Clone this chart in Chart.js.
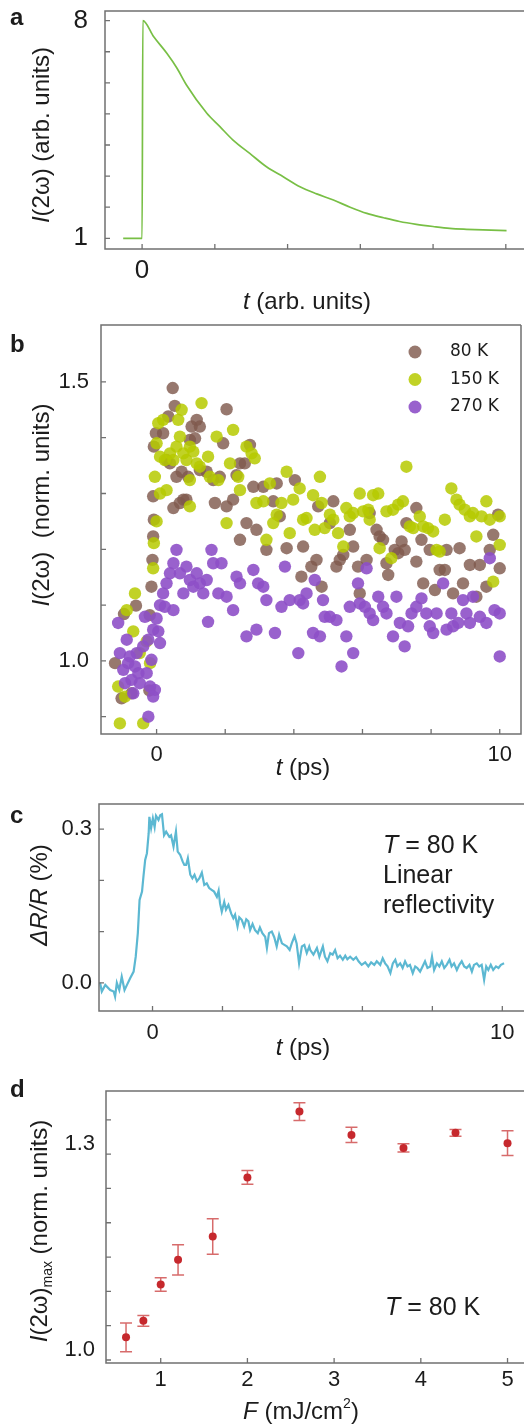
<!DOCTYPE html>
<html>
<head>
<meta charset="utf-8">
<script src="https://cdn.jsdelivr.net/npm/chart.js@4.4.1/dist/chart.umd.min.js"></script>
<style>
  html, body { margin: 0; padding: 0; background: #fff; }
  #wrap { position: relative; width: 524px; height: 1424px; }
  canvas { position: absolute; left: 0; top: 0; }
</style>
</head>
<body>
<div id="wrap">
  <canvas id="chartA" width="524" height="1424"></canvas>
  <canvas id="chartB" width="524" height="1424"></canvas>
  <canvas id="chartC" width="524" height="1424"></canvas>
  <canvas id="chartD" width="524" height="1424"></canvas>
</div>
<script>
// ---- panel a: model SHG transient (arb. units)
const modelT = [-0.26, 0, 0.01, 0.16, 0.34, 0.48, 0.61, 0.89, 1.07, 1.25, 1.48, 1.71, 1.94, 2.17, 2.40, 2.63, 2.86, 3.09, 3.32, 3.54, 3.77, 4.00, 4.23, 4.46, 4.69, 5.01];
const modelI = [1, 1, 8, 7.48, 6.95, 6.47, 5.93, 5.02, 4.59, 4.16, 3.73, 3.30, 2.98, 2.66, 2.43, 2.23, 2.00, 1.80, 1.66, 1.54, 1.45, 1.38, 1.32, 1.29, 1.27, 1.25];
const aXTicks = [0, 1, 2, 3, 4, 5];
const aXLabels = ['0', '', '', '', '', ''];
const aYTicks = [1, 2, 3, 4, 5, 6, 7, 8];
const aYLabels = ['1', '', '', '', '', '', '', '8'];

// ---- panel b: measured SHG vs delay, [t (ps), I (norm.)]
const shg80K = [[-1.21,0.996],[-1.02,0.933],[-0.95,1.084],[-0.60,1.099],[-0.73,0.942],[-0.21,0.947],[-0.20,1.082],[-0.15,1.133],[-0.12,1.181],[-0.10,1.223],[-0.08,1.253],[-0.10,1.295],[-0.08,1.384],[-0.02,1.408],
  [0.47,1.489],[0.53,1.457],[0.19,1.408],[0.34,1.438],[0.29,1.360],[0.39,1.354],[0.58,1.330],[0.78,1.289],[0.49,1.274],[0.68,1.283],[0.87,1.289],[1.02,1.420],[1.17,1.432],[1.26,1.420],[1.12,1.399],[0.97,1.396],[0.92,1.330],[1.26,1.342],[1.46,1.339],[1.65,1.324],[0.73,1.339],
  [2.04,1.451],[1.94,1.390],[1.84,1.330],[1.70,1.283],[2.04,1.277],[2.23,1.289],[2.43,1.354],[2.57,1.354],[2.33,1.333],[2.72,1.387],[2.82,1.312],[2.62,1.247],[2.91,1.235],[2.43,1.217],
  [3.20,1.199],[3.11,1.312],[3.40,1.286],[3.50,1.318],[3.59,1.259],[3.79,1.202],[4.03,1.324],[4.27,1.205],[4.22,1.151],[4.51,1.169],[4.66,1.181],[4.81,1.133],[4.71,1.277],
  [5.15,1.286],[5.05,1.247],[5.24,1.169],[5.34,1.181],[5.44,1.190],[5.63,1.235],[5.73,1.205],[5.92,1.121],[5.87,1.169],[6.12,1.181],[6.21,1.265],[6.41,1.235],[6.50,1.223],[6.60,1.217],[6.75,1.154],[6.70,1.175],[6.94,1.199],[7.04,1.193],[7.14,1.214],[7.23,1.199],[7.28,1.247],[7.57,1.274],[7.57,1.178],[7.72,1.217],[7.77,1.139],[7.96,1.199],
  [8.11,1.127],[8.25,1.163],[8.40,1.163],[8.45,1.199],[8.64,1.121],[8.83,1.202],[8.93,1.139],[9.13,1.172],[9.32,1.115],[9.42,1.172],[9.61,1.133],[9.71,1.199],[9.81,1.226],[9.95,1.262],[10.00,1.166]];
const shg150K = [[-1.07,0.888],[-1.12,0.954],[-0.92,0.936],[-0.87,1.091],[-0.63,1.121],[-0.68,1.053],[-0.49,1.014],[-0.39,0.888],[-0.19,0.996],[-0.29,1.035],
  [-0.10,1.166],[-0.08,1.211],[0.00,1.250],[-0.05,1.330],[0.00,1.390],[0.05,1.426],[0.10,1.366],[0.19,1.432],[0.24,1.360],[0.29,1.306],[0.10,1.300],
  [0.39,1.372],[0.49,1.360],[0.58,1.384],[0.68,1.402],[0.73,1.450],[0.63,1.432],[0.78,1.372],[0.87,1.360],[0.97,1.384],[1.07,1.375],[1.17,1.354],[0.97,1.324],[0.97,1.277],
  [1.31,1.462],[1.26,1.348],[1.50,1.366],[1.55,1.330],[1.75,1.402],[1.80,1.324],[2.04,1.247],[2.14,1.354],[2.23,1.414],[2.38,1.330],[2.43,1.306],[2.62,1.384],[2.77,1.372],[2.86,1.363],[2.91,1.283],
  [3.11,1.286],[3.20,1.217],[3.30,1.318],[3.40,1.247],[3.50,1.262],[3.64,1.283],[3.79,1.339],[3.88,1.229],[3.98,1.289],[4.17,1.309],[4.27,1.253],[4.37,1.256],[4.56,1.297],[4.61,1.235],[4.76,1.330],[4.81,1.283],[4.90,1.238],
  [5.05,1.262],[5.15,1.253],[5.29,1.229],[5.44,1.205],[5.53,1.274],[5.63,1.259],[5.73,1.265],[5.92,1.300],[6.02,1.268],[6.17,1.271],[6.21,1.253],[6.31,1.297],[6.46,1.300],[6.50,1.202],[6.70,1.268],[6.84,1.184],[6.89,1.271],
  [7.04,1.280],[7.18,1.286],[7.28,1.348],[7.38,1.241],[7.48,1.238],[7.67,1.259],[7.77,1.241],[7.91,1.238],[8.06,1.232],[8.16,1.199],[8.25,1.196],[8.40,1.253],[8.59,1.309],[8.74,1.289],[8.83,1.280],[8.98,1.271],
  [9.13,1.259],[9.22,1.265],[9.32,1.223],[9.47,1.259],[9.61,1.286],[9.71,1.253],[9.81,1.142],[10.00,1.208],[10.00,1.259]];
const shg270K = [[-1.12,1.068],[-1.07,1.014],[-0.97,0.984],[-0.87,1.038],[-0.78,1.008],[-0.73,0.966],[-0.63,0.990],[-0.58,1.014],[-0.49,0.960],[-0.39,1.026],[-0.29,0.978],[-0.19,0.954],[-0.15,1.002],[-0.05,0.948],[-0.24,0.900],[-0.10,0.936],[-0.68,0.942],[-0.92,0.960],[-0.83,0.996],[-0.53,0.978],[-0.34,1.079],[-0.24,1.038],[-0.10,1.056],[0.05,1.053],[0.10,1.032],[0.00,1.076],
  [0.10,1.100],[0.19,1.121],[0.29,1.139],[0.24,1.097],[0.39,1.157],[0.49,1.175],[0.58,1.199],[0.49,1.091],[0.68,1.157],[0.78,1.121],[0.87,1.169],[0.97,1.145],[1.07,1.133],[1.17,1.157],[1.26,1.139],[1.36,1.121],[1.46,1.145],[1.50,1.070],[1.60,1.199],[1.65,1.175],[1.89,1.175],[1.80,1.121],
  [2.04,1.115],[2.23,1.091],[2.33,1.151],[2.43,1.139],[2.62,1.044],[2.82,1.163],[2.91,1.056],[2.96,1.139],[3.11,1.133],[3.20,1.109],[3.45,1.050],[3.64,1.097],[3.74,1.169],[3.88,1.109],
  [4.13,1.014],[4.17,1.109],[4.27,1.103],[4.37,1.121],[4.61,1.145],[4.56,1.050],[4.76,1.044],[4.85,1.109],[4.90,1.079],[5.05,1.079],[5.24,1.073],[5.39,0.990],[5.53,1.044],[5.63,1.097],[5.73,1.014],[5.87,1.139],[5.92,1.103],
  [6.07,1.097],[6.12,1.166],[6.21,1.085],[6.31,1.073],[6.46,1.115],[6.60,1.097],[6.70,1.085],[6.89,1.044],[6.99,1.115],[7.09,1.068],[7.23,1.026],[7.33,1.062],[7.43,1.085],[7.57,1.097],[7.72,1.112],[7.86,1.085],[7.96,1.062],
  [8.06,1.050],[8.16,1.085],[8.35,1.139],[8.45,1.056],[8.59,1.085],[8.64,1.062],[8.79,1.068],[8.93,1.109],[9.03,1.085],[9.13,1.068],[9.22,1.115],[9.42,1.079],[9.61,1.068],[9.71,1.184],[9.85,1.091],[10.00,1.008],[10.00,1.085]];
const bXTicks = [0, 2, 4, 6, 8, 10];
const bXLabels = ['0', '', '', '', '', '10'];
const bYTicks = [0.9, 1.0, 1.1, 1.2, 1.3, 1.4, 1.5];
const bYLabels = ['', '1.0', '', '', '', '', '1.5'];
const seriesNames = ['80 K', '150 K', '270 K'];

// ---- panel c: linear reflectivity, [t (ps), dR/R (%)]
const reflTrace = [[-1.50,0.000],[-1.45,-0.017],[-1.35,-0.004],[-1.21,-0.014],[-1.11,-0.017],[-1.07,-0.027],[-1.02,0.000],[-0.95,-0.014],[-0.88,0.012],[-0.80,-0.014],[-0.73,-0.004],[-0.64,0.009],[-0.54,0.022],[-0.48,0.051],[-0.42,0.097],[-0.37,0.162],[-0.30,0.178],[-0.26,0.207],[-0.21,0.240],[-0.16,0.253],[-0.11,0.292],[-0.09,0.324],[-0.04,0.302],[0.01,0.321],[0.06,0.304],[0.10,0.326],[0.17,0.318],[0.22,0.327],[0.27,0.329],
  [0.33,0.288],[0.39,0.295],[0.48,0.285],[0.53,0.288],[0.60,0.266],[0.67,0.295],[0.72,0.256],[0.79,0.250],[0.86,0.237],[0.91,0.230],[0.96,0.230],[1.01,0.243],[1.08,0.211],[1.14,0.204],[1.20,0.211],[1.27,0.198],[1.34,0.204],[1.41,0.215],[1.48,0.191],[1.55,0.194],[1.62,0.185],[1.70,0.181],[1.76,0.178],[1.84,0.168],[1.89,0.180],[1.93,0.155],[1.98,0.139],
  [2.05,0.158],[2.10,0.143],[2.17,0.152],[2.25,0.135],[2.31,0.126],[2.36,0.133],[2.43,0.110],[2.48,0.128],[2.55,0.123],[2.62,0.110],[2.68,0.124],[2.74,0.120],[2.79,0.103],[2.86,0.115],[2.93,0.103],[3.01,0.097],[3.07,0.108],[3.14,0.097],[3.22,0.090],[3.27,0.068],[3.33,0.097],[3.41,0.100],[3.48,0.089],[3.55,0.071],[3.62,0.094],[3.70,0.077],[3.77,0.074],[3.84,0.071],[3.92,0.064],[3.98,0.077],
  [4.06,0.091],[4.12,0.077],[4.19,0.038],[4.27,0.071],[4.34,0.074],[4.41,0.058],[4.48,0.071],[4.51,0.064],[4.60,0.055],[4.70,0.068],[4.77,0.051],[4.87,0.071],[4.93,0.051],[5.00,0.042],[5.08,0.058],[5.15,0.055],[5.22,0.064],[5.29,0.048],[5.36,0.053],[5.44,0.045],[5.51,0.053],[5.57,0.046],[5.65,0.051],[5.74,0.045],[5.82,0.050],[5.89,0.042],[5.98,0.035],
  [6.08,0.040],[6.17,0.032],[6.25,0.040],[6.34,0.035],[6.41,0.042],[6.51,0.035],[6.58,0.048],[6.65,0.038],[6.72,0.032],[6.80,0.019],[6.87,0.038],[6.94,0.045],[7.00,0.032],[7.08,0.038],[7.15,0.029],[7.22,0.042],[7.29,0.032],[7.36,0.035],[7.44,0.019],[7.51,0.032],[7.57,0.029],[7.65,0.022],[7.72,0.032],[7.79,0.042],[7.86,0.029],[7.94,0.032],[7.99,0.051],
  [8.05,0.025],[8.13,0.038],[8.20,0.032],[8.27,0.042],[8.34,0.029],[8.41,0.035],[8.49,0.045],[8.55,0.032],[8.62,0.038],[8.70,0.025],[8.77,0.035],[8.84,0.042],[8.91,0.032],[8.98,0.029],[9.06,0.035],[9.13,0.022],[9.19,0.035],[9.27,0.038],[9.34,0.032],[9.41,0.035],[9.48,0.006],[9.54,0.032],[9.60,0.025],[9.67,0.035],[9.74,0.025],[9.82,0.032],[9.89,0.029],[9.96,0.035],[10.05,0.038]];
const cXTicks = [0, 2, 4, 6, 8, 10];
const cXLabels = ['0', '', '', '', '', '10'];
const cYTicks = [0, 0.1, 0.2, 0.3];
const cYLabels = ['0.0', '', '', '0.3'];

// ---- panel d: SHG maximum vs fluence
const fluence = [0.6, 0.8, 1.0, 1.2, 1.6, 2.0, 2.6, 3.2, 3.8, 4.4, 5.0];
const shgMax = [1.033, 1.057, 1.110, 1.146, 1.180, 1.266, 1.362, 1.328, 1.309, 1.331, 1.316];
const shgErr = [0.021, 0.008, 0.010, 0.022, 0.026, 0.010, 0.013, 0.011, 0.006, 0.005, 0.018];
const dXTicks = [1, 2, 3, 4, 5];
const dXLabels = ['1', '2', '3', '4', '5'];
const dYTicks = [1.0, 1.05, 1.1, 1.15, 1.2, 1.25, 1.3, 1.35];
const dYLabels = ['1.0', '', '', '', '', '', '1.3', ''];

const FAM = '"Liberation Sans", Arial, Helvetica, sans-serif';
const INK = '#1c1c1c';
const FRAME = '#707070';
const font = (size, style) => (style ? style + ' ' : '') + size + 'px ' + FAM;

// draw a run of text pieces with mixed styles
function drawRich(ctx, parts, x, y, opt) {
  opt = opt || {};
  ctx.save();
  ctx.translate(x, y);
  if (opt.rot) ctx.rotate(-Math.PI / 2);
  ctx.textBaseline = opt.base || 'middle';
  ctx.textAlign = 'left';
  ctx.fillStyle = INK;
  let w = 0;
  parts.forEach(p => { ctx.font = p.f; w += ctx.measureText(p.t).width; });
  let cx = opt.align === 'left' ? 0 : -w / 2;
  parts.forEach(p => {
    ctx.font = p.f;
    ctx.fillText(p.t, cx, p.dy || 0);
    cx += ctx.measureText(p.t).width;
  });
  ctx.restore();
}

// frame + inward tick marks
function framePlugin(closed) {
  return {
    id: 'frame',
    afterDraw(chart) {
      const { ctx, chartArea: ca, scales } = chart;
      ctx.save();
      ctx.strokeStyle = FRAME;
      ctx.lineWidth = 1.5;
      ctx.beginPath();
      ctx.moveTo(ca.right, ca.top);
      ctx.lineTo(ca.left, ca.top);
      ctx.lineTo(ca.left, ca.bottom);
      ctx.lineTo(ca.right, ca.bottom);
      if (closed) ctx.lineTo(ca.right, ca.top);
      ctx.stroke();
      ctx.lineWidth = 1.3;
      ctx.beginPath();
      scales.x.ticks.forEach(t => {
        const px = scales.x.getPixelForValue(t.value);
        ctx.moveTo(px, ca.bottom);
        ctx.lineTo(px, ca.bottom - 5);
      });
      scales.y.ticks.forEach(t => {
        const py = scales.y.getPixelForValue(t.value);
        ctx.moveTo(ca.left, py);
        ctx.lineTo(ca.left + 5, py);
      });
      ctx.stroke();
      ctx.restore();
    }
  };
}

function textPlugin(draw) {
  return { id: 'notes', afterDraw(chart) { draw(chart.ctx, chart); } };
}

function makePanel(id, box, xRange, yRange, xTicks, xLabels, yTicks, yLabels, datasets, extraPlugins) {
  const tickFont = { family: FAM, size: box.tickSize || 22, lineHeight: 1.2 };
  return new Chart(document.getElementById(id), {
    type: 'scatter',
    data: { datasets: datasets },
    options: {
      responsive: false,
      animation: false,
      devicePixelRatio: 1,
      layout: { autoPadding: false, padding: { left: 0, top: box.top, right: 524 - box.right, bottom: 1424 - box.bottom - 40 } },
      plugins: { legend: { display: false }, tooltip: { enabled: false } },
      scales: {
        x: {
          type: 'linear', min: xRange[0], max: xRange[1],
          afterFit: s => { s.height = 40; s.paddingLeft = 0; s.paddingRight = 0; },
          afterBuildTicks: s => { s.ticks = xTicks.map(v => ({ value: v })); },
          grid: { display: false, drawTicks: false },
          border: { display: false },
          ticks: { padding: box.xPad, autoSkip: false, maxRotation: 0, color: INK, font: tickFont,
            callback: (v, i) => xLabels[i] }
        },
        y: {
          type: 'linear', min: yRange[0], max: yRange[1],
          afterFit: s => { s.width = box.left; s.paddingTop = 0; s.paddingBottom = 0; },
          afterBuildTicks: s => { s.ticks = yTicks.map(v => ({ value: v })); },
          grid: { display: false, drawTicks: false },
          border: { display: false },
          ticks: { padding: box.yPad, autoSkip: false, color: INK, labelOffset: box.yOff || 0, font: tickFont,
            callback: (v, i) => yLabels[i] }
        }
      }
    },
    plugins: [framePlugin(box.closed)].concat(extraPlugins)
  });
}

const toXY = pts => pts.map(p => ({ x: p[0], y: p[1] }));

// panel a
makePanel('chartA', { left: 105, top: 11, right: 524, bottom: 249, xPad: 6, yPad: 17, tickSize: 26 },
  [-0.51, 5.25], [0.656, 8.31], aXTicks, aXLabels, aYTicks, aYLabels,
  [{ data: modelT.map((t, i) => ({ x: t, y: modelI[i] })), showLine: true, borderColor: '#78bf45',
     borderWidth: 1.7, pointRadius: 0, cubicInterpolationMode: 'monotone' }],
  [textPlugin(ctx => {
    drawRich(ctx, [{ t: 'a', f: font(24, 'bold') }], 10, 25, { base: 'alphabetic', align: 'left' });
    drawRich(ctx, [{ t: 'I', f: font(24, 'italic') }, { t: '(2ω) (arb. units)', f: font(24) }], 42, 135, { rot: true });
    drawRich(ctx, [{ t: 't', f: font(24, 'italic') }, { t: ' (arb. units)', f: font(24) }], 307, 302);
  })]);

// panel b
const dotColors = ['rgba(128, 90, 78, 0.82)', 'rgba(182, 202, 0, 0.85)', 'rgba(142, 80, 200, 0.9)'];
makePanel('chartB', { left: 101, top: 325, right: 521, bottom: 734, xPad: 8, yPad: 12, closed: true },
  [-1.62, 10.62], [0.869, 1.602], bXTicks, bXLabels, bYTicks, bYLabels,
  [
    { data: toXY(shg80K), backgroundColor: dotColors[0], borderWidth: 0, pointRadius: 6.2, order: 2 },
    { data: toXY(shg150K), backgroundColor: dotColors[1], borderWidth: 0, pointRadius: 6.2, order: 1 },
    { data: toXY(shg270K), backgroundColor: dotColors[2], borderWidth: 0, pointRadius: 6.2, order: 0 }
  ],
  [textPlugin(ctx => {
    drawRich(ctx, [{ t: 'b', f: font(24, 'bold') }], 10, 352, { base: 'alphabetic', align: 'left' });
    drawRich(ctx, [{ t: 'I', f: font(24, 'italic') }, { t: '(2ω)  (norm. units)', f: font(24) }], 42, 505, { rot: true });
    drawRich(ctx, [{ t: 't', f: font(24, 'italic') }, { t: ' (ps)', f: font(24) }], 303, 768);
    seriesNames.forEach((name, i) => {
      const y = 352 + i * 27.5;
      ctx.save();
      ctx.fillStyle = dotColors[i];
      ctx.beginPath();
      ctx.arc(415, y, 6.5, 0, Math.PI * 2);
      ctx.fill();
      ctx.restore();
      drawRich(ctx, [{ t: name, f: '17px "DejaVu Sans", sans-serif' }], 450, y, { align: 'left' });
    });
  })]);

// panel c
makePanel('chartC', { left: 99, top: 804, right: 524, bottom: 1011, xPad: 9, yPad: 7 },
  [-1.53, 10.62], [-0.055, 0.349], cXTicks, cXLabels, cYTicks, cYLabels,
  [{ data: toXY(reflTrace), showLine: true, borderColor: '#5cb8d2', borderWidth: 2.2, pointRadius: 0 }],
  [textPlugin(ctx => {
    drawRich(ctx, [{ t: 'c', f: font(24, 'bold') }], 10, 823, { base: 'alphabetic', align: 'left' });
    drawRich(ctx, [{ t: 'ΔR/R', f: font(24, 'italic') }, { t: ' (%)', f: font(24) }], 40, 895, { rot: true });
    drawRich(ctx, [{ t: 't', f: font(24, 'italic') }, { t: ' (ps)', f: font(24) }], 303, 1048);
    drawRich(ctx, [{ t: 'T', f: font(25, 'italic') }, { t: ' = 80 K', f: font(25) }], 383, 853, { base: 'alphabetic', align: 'left' });
    drawRich(ctx, [{ t: 'Linear', f: font(25) }], 383, 883, { base: 'alphabetic', align: 'left' });
    drawRich(ctx, [{ t: 'reflectivity', f: font(25) }], 383, 913, { base: 'alphabetic', align: 'left' });
  })]);

// panel d
const errBars = {
  id: 'errBars',
  beforeDatasetsDraw(chart) {
    const { ctx, scales: { x, y } } = chart;
    ctx.save();
    ctx.strokeStyle = 'rgba(205, 70, 70, 0.8)';
    ctx.lineWidth = 1.5;
    fluence.forEach((f, i) => {
      const px = x.getPixelForValue(f);
      const lo = y.getPixelForValue(shgMax[i] - shgErr[i]);
      const hi = y.getPixelForValue(shgMax[i] + shgErr[i]);
      ctx.beginPath();
      ctx.moveTo(px, lo); ctx.lineTo(px, hi);
      ctx.moveTo(px - 6, lo); ctx.lineTo(px + 6, lo);
      ctx.moveTo(px - 6, hi); ctx.lineTo(px + 6, hi);
      ctx.stroke();
    });
    ctx.restore();
  }
};
makePanel('chartD', { left: 106, top: 1091, right: 524, bottom: 1363, xPad: 4, yPad: 11, yOff: -10 },
  [0.369, 5.19], [0.9956, 1.392], dXTicks, dXLabels, dYTicks, dYLabels,
  [{ data: fluence.map((f, i) => ({ x: f, y: shgMax[i] })), backgroundColor: '#c6282d', borderWidth: 0, pointRadius: 4 }],
  [errBars, textPlugin(ctx => {
    drawRich(ctx, [{ t: 'd', f: font(24, 'bold') }], 10, 1097, { base: 'alphabetic', align: 'left' });
    drawRich(ctx, [{ t: 'I', f: font(24, 'italic') }, { t: '(2ω)', f: font(24) }, { t: 'max', f: font(14), dy: 8 }, { t: ' (norm. units)', f: font(24) }], 40, 1231, { rot: true });
    drawRich(ctx, [{ t: 'F', f: font(24, 'italic') }, { t: ' (mJ/cm', f: font(24) }, { t: '2', f: font(14), dy: -8 }, { t: ')', f: font(24) }], 301, 1412);
    drawRich(ctx, [{ t: 'T', f: font(25, 'italic') }, { t: ' = 80 K', f: font(25) }], 385, 1315, { base: 'alphabetic', align: 'left' });
  })]);
</script>
</body>
</html>
